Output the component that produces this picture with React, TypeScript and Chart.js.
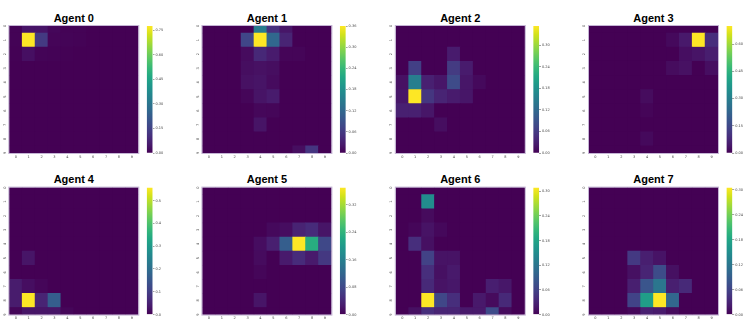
import React, { useEffect, useRef } from 'react';
import { Chart, registerables } from 'chart.js';

Chart.register(...registerables);

// ---------- data ----------
const X_LABELS = ['0', '1', '2', '3', '4', '5', '6', '7', '8', '9'];
const Y_LABELS = ['0', '1', '2', '3', '4', '5', '6', '7', '8', '9'];
const TITLES = ['Agent 0', 'Agent 1', 'Agent 2', 'Agent 3', 'Agent 4', 'Agent 5', 'Agent 6', 'Agent 7'];

const AGENT_0 = [
  [0.005, 0.04, 0.04, 0.012, 0.005, 0.004, 0, 0, 0, 0],
  [0.004, 0.776, 0.13, 0.008, 0.006, 0.004, 0, 0, 0, 0],
  [0.003, 0.03, 0.006, 0.004, 0.003, 0, 0, 0, 0, 0],
  [0, 0, 0, 0, 0, 0, 0, 0, 0, 0],
  [0, 0, 0, 0, 0, 0, 0, 0, 0, 0],
  [0, 0, 0, 0, 0, 0, 0, 0, 0, 0],
  [0, 0, 0, 0, 0, 0, 0, 0, 0, 0],
  [0, 0, 0, 0, 0, 0, 0, 0, 0, 0],
  [0, 0, 0, 0, 0, 0, 0, 0, 0, 0],
  [0, 0, 0, 0, 0, 0, 0, 0, 0, 0],
];
const AGENT_1 = [
  [0, 0, 0, 0, 0.15, 0.05, 0.02, 0, 0, 0],
  [0, 0, 0, 0.075, 0.36, 0.12, 0.035, 0, 0, 0],
  [0, 0, 0, 0.01, 0.04, 0.025, 0.004, 0.004, 0, 0],
  [0, 0, 0, 0.012, 0.015, 0.012, 0, 0, 0, 0],
  [0, 0, 0, 0.015, 0.018, 0.01, 0, 0, 0, 0],
  [0, 0, 0, 0.005, 0.018, 0.025, 0, 0, 0, 0],
  [0, 0, 0, 0, 0.006, 0.005, 0, 0, 0, 0],
  [0, 0, 0, 0, 0.018, 0, 0, 0, 0, 0],
  [0, 0, 0, 0, 0, 0, 0, 0, 0, 0],
  [0, 0, 0, 0, 0, 0, 0, 0.012, 0.055, 0],
];
const AGENT_2 = [
  [0, 0, 0, 0, 0, 0, 0, 0, 0, 0],
  [0, 0, 0, 0, 0, 0, 0, 0, 0, 0],
  [0, 0, 0, 0, 0.025, 0, 0, 0, 0, 0],
  [0, 0.065, 0, 0, 0.06, 0.025, 0, 0, 0, 0],
  [0.015, 0.15, 0.03, 0.02, 0.08, 0.02, 0.008, 0, 0, 0],
  [0.02, 0.353, 0.055, 0.035, 0.025, 0.02, 0, 0, 0, 0],
  [0.03, 0.03, 0.02, 0, 0, 0, 0, 0, 0, 0],
  [0, 0, 0, 0.012, 0, 0, 0, 0, 0, 0],
  [0, 0, 0, 0, 0, 0, 0, 0, 0, 0],
  [0, 0, 0, 0, 0, 0, 0, 0, 0, 0],
];
const AGENT_3 = [
  [0, 0, 0, 0, 0, 0, 0, 0, 0, 0],
  [0, 0, 0, 0, 0, 0, 0.015, 0.045, 0.7, 0.09],
  [0, 0, 0, 0, 0, 0, 0, 0.025, 0.035, 0.055],
  [0, 0, 0, 0, 0, 0, 0.02, 0.03, 0, 0.025],
  [0, 0, 0, 0, 0, 0, 0, 0, 0, 0],
  [0, 0, 0, 0, 0.02, 0, 0, 0, 0, 0],
  [0, 0, 0, 0, 0.008, 0, 0, 0, 0, 0],
  [0, 0, 0, 0, 0, 0, 0, 0, 0, 0],
  [0, 0, 0, 0, 0.015, 0, 0, 0, 0, 0],
  [0, 0, 0, 0, 0, 0, 0, 0, 0, 0],
];
const AGENT_4 = [
  [0, 0, 0, 0, 0, 0, 0, 0, 0, 0],
  [0, 0, 0, 0, 0, 0, 0, 0, 0, 0],
  [0, 0, 0, 0, 0, 0, 0, 0, 0, 0],
  [0, 0, 0, 0, 0, 0, 0, 0, 0, 0],
  [0, 0, 0, 0, 0, 0, 0, 0, 0, 0],
  [0, 0.03, 0, 0, 0, 0, 0, 0, 0, 0],
  [0, 0, 0, 0, 0, 0, 0, 0, 0, 0],
  [0.04, 0.02, 0.008, 0, 0, 0, 0, 0, 0, 0],
  [0.04, 0.557, 0.055, 0.165, 0, 0, 0, 0, 0, 0],
  [0.008, 0.03, 0.03, 0.03, 0.008, 0, 0, 0, 0, 0],
];
const AGENT_5 = [
  [0, 0, 0, 0, 0, 0, 0, 0, 0, 0],
  [0, 0, 0, 0, 0, 0, 0, 0, 0, 0],
  [0, 0, 0, 0, 0, 0, 0, 0, 0, 0],
  [0, 0, 0, 0, 0, 0.008, 0.012, 0.035, 0.045, 0.02],
  [0, 0, 0, 0, 0.012, 0.03, 0.11, 0.37, 0.23, 0.08],
  [0, 0, 0, 0, 0.01, 0, 0.025, 0.045, 0.025, 0.06],
  [0, 0, 0, 0, 0.005, 0, 0, 0, 0, 0],
  [0, 0, 0, 0, 0, 0, 0, 0, 0, 0],
  [0, 0, 0, 0, 0.02, 0, 0, 0, 0, 0],
  [0, 0, 0, 0, 0, 0, 0, 0, 0, 0],
];
const AGENT_6 = [
  [0, 0, 0, 0, 0, 0, 0, 0, 0, 0],
  [0, 0, 0.15, 0, 0, 0, 0, 0, 0, 0],
  [0, 0, 0.008, 0, 0, 0, 0, 0, 0, 0],
  [0, 0.004, 0.015, 0.006, 0, 0, 0, 0, 0, 0],
  [0, 0.04, 0.012, 0, 0, 0, 0, 0, 0, 0],
  [0, 0, 0.06, 0.015, 0.015, 0, 0, 0, 0, 0],
  [0, 0, 0.04, 0.012, 0.02, 0, 0, 0, 0, 0],
  [0, 0, 0.035, 0.015, 0.018, 0, 0, 0.025, 0.018, 0],
  [0, 0, 0.309, 0.065, 0.04, 0, 0.02, 0.008, 0.035, 0],
  [0, 0.012, 0.04, 0.03, 0.03, 0.02, 0.02, 0.07, 0.008, 0],
];
const AGENT_7 = [
  [0, 0, 0, 0, 0, 0, 0, 0, 0, 0],
  [0, 0, 0, 0, 0, 0, 0, 0, 0, 0],
  [0, 0, 0, 0, 0, 0, 0, 0, 0, 0],
  [0, 0, 0, 0, 0, 0, 0, 0, 0, 0],
  [0, 0, 0, 0, 0, 0, 0, 0, 0, 0],
  [0, 0, 0, 0.05, 0.025, 0.015, 0, 0, 0, 0],
  [0, 0, 0, 0.012, 0.03, 0.07, 0.012, 0, 0, 0],
  [0, 0, 0, 0.025, 0.08, 0.12, 0.025, 0.035, 0, 0],
  [0, 0, 0, 0.06, 0.17, 0.305, 0.1, 0, 0, 0],
  [0, 0, 0, 0.005, 0.025, 0.02, 0.008, 0, 0, 0],
];

const GRIDS = [AGENT_0, AGENT_1, AGENT_2, AGENT_3, AGENT_4, AGENT_5, AGENT_6, AGENT_7];
const CB_STEPS = [0.15, 0.06, 0.06, 0.15, 0.1, 0.08, 0.06, 0.06];
const CB_DECIMALS = [2, 2, 2, 2, 1, 2, 2, 2];

// ---------- colormap ----------
const VIRIDIS = [
  '#440154', '#481a6c', '#472f7d', '#414487', '#39568c', '#31688e', '#2a788e', '#23888e',
  '#1f988b', '#22a884', '#35b779', '#54c568', '#7ad151', '#a5db36', '#d2e21b', '#fde725',
];
function hexToRgb(h: string) {
  return [parseInt(h.slice(1, 3), 16), parseInt(h.slice(3, 5), 16), parseInt(h.slice(5, 7), 16)];
}
const VIRIDIS_RGB = VIRIDIS.map(hexToRgb);
function viridis(t: number) {
  const c = Math.max(0, Math.min(1, t));
  const p = c * (VIRIDIS_RGB.length - 1);
  const i = Math.min(Math.floor(p), VIRIDIS_RGB.length - 2);
  const f = p - i;
  const a = VIRIDIS_RGB[i];
  const b = VIRIDIS_RGB[i + 1];
  const r = Math.round(a[0] + (b[0] - a[0]) * f);
  const g = Math.round(a[1] + (b[1] - a[1]) * f);
  const bl = Math.round(a[2] + (b[2] - a[2]) * f);
  return `rgb(${r},${g},${bl})`;
}

// ---------- layout ----------
const HEAT_LEFTS = [9.3, 202.4, 395.8, 589];
const ROW_TOPS = [26, 187.6];
const TITLE_TOPS = [12, 172.5];
const HEAT_W = 129;
const HEAT_H = 127;
const CB_OFFSET = 137.4;
const CB_W = 6;
const TICK_FONT = { size: 3.5, family: 'DejaVu Sans' };
const TICK_COLOR = '#444';

const heatBackgroundPlugin = {
  id: 'heatBackground',
  beforeDatasetsDraw(chart: any) {
    const { ctx, chartArea } = chart;
    ctx.save();
    ctx.fillStyle = VIRIDIS[0];
    ctx.fillRect(chartArea.left, chartArea.top, chartArea.right - chartArea.left, chartArea.bottom - chartArea.top);
    ctx.restore();
  },
};

const heatLabelsPlugin = {
  id: 'heatLabels',
  afterDraw(chart: any) {
    const { ctx, chartArea } = chart;
    const { left, top, right, bottom } = chartArea;
    const xs = chart.scales.x;
    const ys = chart.scales.y;
    ctx.save();
    ctx.strokeStyle = 'rgba(196,180,212,1)';
    ctx.lineWidth = 1;
    ctx.strokeRect(left - 0.5, top - 0.5, right - left + 1, bottom - top + 1);
    ctx.fillStyle = TICK_COLOR;
    ctx.font = `${TICK_FONT.size}px "${TICK_FONT.family}"`;
    ctx.textAlign = 'center';
    ctx.textBaseline = 'middle';
    X_LABELS.forEach((l, i) => {
      const x = xs.getPixelForValue(i);
      ctx.fillText(l, x, bottom + 3.8);
    });
    Y_LABELS.forEach((l, r) => {
      const y = ys.getPixelForValue(9.5 - r);
      ctx.save();
      ctx.translate(left - 4.6, y);
      ctx.rotate(-Math.PI / 2);
      ctx.fillText(l, 0, 0);
      ctx.restore();
    });
    ctx.restore();
  },
};

function Heatmap({ index }: { index: number }) {
  const ref = useRef<HTMLCanvasElement>(null);
  const col = index % 4;
  const row = Math.floor(index / 4);
  const hx = HEAT_LEFTS[col];
  const hy = ROW_TOPS[row];
  const cl = Math.floor(hx) - 9;
  const ct = Math.floor(hy) - 2;
  const cw = HEAT_W + 13 + 9;
  const ch = HEAT_H + 2 + 10;
  useEffect(() => {
    const grid = GRIDS[index];
    const max = Math.max(...grid.flat());
    const datasets = [];
    for (let k = 0; k < 10; k++) {
      const r = 9 - k;
      datasets.push({
        data: X_LABELS.map(() => 1),
        backgroundColor: grid[r].map((v) => viridis(v / max)),
        borderWidth: 0,
        barPercentage: 1,
        categoryPercentage: 1,
      });
    }
    const chart = new Chart(ref.current!, {
      type: 'bar',
      data: { labels: X_LABELS, datasets },
      options: {
        responsive: false,
        animation: false,
        events: [],
        layout: {
          padding: {
            left: hx - cl,
            top: hy - ct,
            right: cw - (hx - cl) - HEAT_W,
            bottom: ch - (hy - ct) - HEAT_H,
          },
        },
        plugins: { legend: { display: false }, tooltip: { enabled: false }, title: { display: false } },
        scales: {
          x: { display: false, stacked: true, offset: true },
          y: { display: false, stacked: true, min: 0.5, max: 9.5 },
        },
      } as any,
      plugins: [heatBackgroundPlugin, heatLabelsPlugin],
    });
    return () => chart.destroy();
  }, [index]);
  return (
    <canvas
      ref={ref}
      width={cw}
      height={ch}
      style={{ position: 'absolute', left: cl, top: ct, width: cw, height: ch }}
    />
  );
}

function ColorBar({ index }: { index: number }) {
  const ref = useRef<HTMLCanvasElement>(null);
  const col = index % 4;
  const row = Math.floor(index / 4);
  const cbx = HEAT_LEFTS[col] + CB_OFFSET;
  const hy = ROW_TOPS[row];
  const cl = Math.floor(cbx);
  const ct = Math.floor(hy) - 6;
  const cw = 26;
  const ch = HEAT_H + 12;
  useEffect(() => {
    const grid = GRIDS[index];
    const max = Math.max(...grid.flat());
    const dec = CB_DECIMALS[index];
    const chart = new Chart(ref.current!, {
      type: 'bar',
      data: {
        labels: [''],
        datasets: [
          {
            data: [max],
            backgroundColor: (c: any) => {
              const area = c.chart.chartArea;
              if (!area) return VIRIDIS[0];
              const g = c.chart.ctx.createLinearGradient(0, area.bottom, 0, area.top);
              VIRIDIS.forEach((h, i) => g.addColorStop(i / (VIRIDIS.length - 1), h));
              return g;
            },
            borderWidth: 0,
            barPercentage: 1,
            categoryPercentage: 1,
            inflateAmount: 0,
          },
        ],
      },
      options: {
        responsive: false,
        animation: false,
        events: [],
        layout: {
          padding: {
            left: cbx - cl,
            top: hy - ct,
            right: 0,
            bottom: ch - (hy - ct) - HEAT_H,
          },
        },
        plugins: { legend: { display: false }, tooltip: { enabled: false } },
        scales: {
          x: { display: false },
          y: {
            position: 'right',
            min: 0,
            max,
            afterFit: (s: any) => {
              s.width = cw - (cbx - cl) - CB_W;
            },
            border: { display: false },
            grid: {
              display: true,
              drawOnChartArea: false,
              drawTicks: true,
              tickLength: 1.8,
              color: TICK_COLOR,
              lineWidth: 0.5,
            },
            ticks: {
              stepSize: CB_STEPS[index],
              includeBounds: false,
              autoSkip: false,
              padding: 1,
              color: TICK_COLOR,
              font: TICK_FONT,
              callback: (v: any) => Number(v).toFixed(dec),
            },
          },
        },
      } as any,
    });
    return () => chart.destroy();
  }, [index]);
  return (
    <canvas
      ref={ref}
      width={cw}
      height={ch}
      style={{ position: 'absolute', left: cl, top: ct, width: cw, height: ch }}
    />
  );
}

export default function App() {
  return (
    <div
      style={{
        position: 'absolute',
        left: 0,
        top: 0,
        width: 747,
        height: 322,
        background: '#ffffff',
        overflow: 'hidden',
      }}
    >
      {TITLES.map((t, i) => {
        const col = i % 4;
        const row = Math.floor(i / 4);
        return (
          <div
            key={'t' + i}
            style={{
              position: 'absolute',
              left: HEAT_LEFTS[col],
              top: TITLE_TOPS[row],
              width: HEAT_W,
              textAlign: 'center',
              fontFamily: '"Liberation Sans", Arial, sans-serif',
              fontWeight: 'bold',
              fontSize: 11,
              lineHeight: 'normal',
              color: '#000',
              whiteSpace: 'nowrap',
            }}
          >
            {t}
          </div>
        );
      })}
      {TITLES.map((_, i) => (
        <Heatmap key={'h' + i} index={i} />
      ))}
      {TITLES.map((_, i) => (
        <ColorBar key={'c' + i} index={i} />
      ))}
    </div>
  );
}
